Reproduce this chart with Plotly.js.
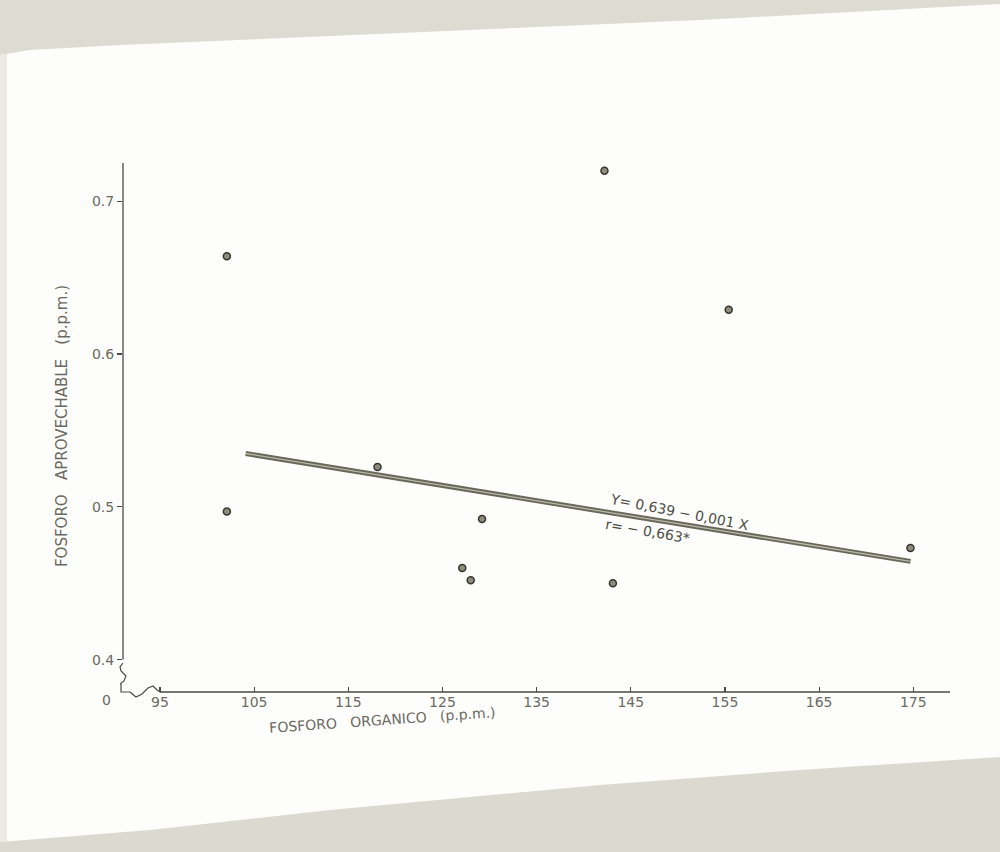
<!DOCTYPE html>
<html>
<head>
<meta charset="utf-8">
<script src="https://cdn.plot.ly/plotly-3.0.1.min.js"></script>
<style>html,body{margin:0;padding:0;background:#fdfdfb;}#chart{width:1000px;height:852px;}</style>
</head>
<body>
<div id="chart"></div>
<script>
// ---- data ----
var fosforoOrganico = [102.1, 102.1, 118.1, 127.1, 128.0, 129.2, 142.2, 143.1, 155.4, 174.7];
var fosforoAprovechable = [0.664, 0.497, 0.526, 0.460, 0.452, 0.492, 0.720, 0.450, 0.629, 0.473];
var xTickVals = [95, 105, 115, 125, 135, 145, 155, 165, 175];
var xTickText = ["95", "105", "115", "125", "135", "145", "155", "165", "175"];
var yTickVals = [0.4, 0.5, 0.6, 0.7];
var yTickText = ["0.4", "0.5", "0.6", "0.7"];
var regIntercept = 0.639;
var regSlope = -0.001;
var regXEnds = [104.1, 174.7];
var regYEnds = regXEnds.map(function (x) { return regIntercept + regSlope * x; });

// ---- layout geometry ----
var W = 1000, H = 852, ML = 123, MR = 50, MT = 160, MB = 160;
var PW = W - ML - MR, PH = H - MT - MB;
function px(x) { return (x - ML) / PW; }
function py(y) { return (H - MB - y) / PH; }
function path(pts) {
  return pts.map(function (p, i) { return (i ? 'L' : 'M') + px(p[0]).toFixed(4) + ',' + py(p[1]).toFixed(4); }).join(' ');
}

var inkAxis = '#4a4a44';
var inkText = '#6a6a62';

var traces = [
  {x: regXEnds, y: regYEnds, mode: 'lines', line: {color: '#68675a', width: 5}, hoverinfo: 'skip', showlegend: false},
  {x: regXEnds, y: regYEnds, mode: 'lines', line: {color: '#b9b7a8', width: 1.3}, hoverinfo: 'skip', showlegend: false},
  {x: fosforoOrganico, y: fosforoAprovechable, mode: 'markers',
   marker: {size: 7, color: '#8e8c7c', line: {color: '#35352e', width: 1.5}}, showlegend: false}
];

var shapes = [
  // surrounding paper (photo background)
  {type: 'path', xref: 'paper', yref: 'paper', layer: 'below', line: {width: 0}, fillcolor: '#dedbd3',
   path: path([[0,0],[1000,0],[1000,4],[700,20],[400,33],[120,45],[30,50],[0,55]]) + ' Z'},
  {type: 'path', xref: 'paper', yref: 'paper', layer: 'below', line: {width: 0}, fillcolor: '#dcd9d1',
   path: path([[0,842],[150,830],[330,810],[600,785],[800,770],[1000,757],[1000,852],[0,852]]) + ' Z'},
  {type: 'path', xref: 'paper', yref: 'paper', layer: 'below', line: {width: 0}, fillcolor: '#ebe9e3',
   path: path([[0,55],[7,54],[7,842],[0,842]]) + ' Z'},
  // y axis line (from the break at 0.4 upward)
  {type: 'line', xref: 'paper', yref: 'y', x0: 0, x1: 0, y0: 0.4, y1: 0.725, line: {color: inkAxis, width: 1.3}},
  // y axis break zigzag
  {type: 'path', xref: 'paper', yref: 'paper', line: {color: inkAxis, width: 1.2},
   path: path([[123,663],[120,667],[121,671],[126,676],[124,681],[120,684]])},
  // corner "L"
  {type: 'path', xref: 'paper', yref: 'paper', line: {color: inkAxis, width: 1.2},
   path: path([[121,684],[121,692],[130,692]])},
  // x axis break wave
  {type: 'path', xref: 'paper', yref: 'paper', line: {color: inkAxis, width: 1.2},
   path: path([[130,692],[136,697],[142,694],[148,688],[153,686],[157,690],[160,692]])},
  // x axis line from 95
  {type: 'line', xref: 'x', yref: 'paper', x0: 95, x1: 178.9, y0: 0, y1: 0, line: {color: inkAxis, width: 1.3}}
];

function ann(x, y, text, angle, size, color) {
  return {xref: 'paper', yref: 'paper', x: px(x), y: py(y), text: text, showarrow: false,
          xanchor: 'center', yanchor: 'middle', textangle: angle,
          font: {family: 'DejaVu Sans', size: size, color: color}};
}

var annotations = [
  ann(106, 700, '0', 0, 14, inkText),
  ann(382, 720, 'FOSFORO   ORGANICO   (p.p.m.)', -4, 14, inkText),
  ann(679, 512, 'Y= 0,639 \u2212 0,001 X', 11, 14, '#4e4e46'),
  ann(647, 531, 'r= \u2212 0,663*', 10, 14, '#4e4e46')
];

var layout = {
  width: W, height: H,
  margin: {l: ML, r: MR, t: MT, b: MB, pad: 0},
  paper_bgcolor: '#fdfdfb',
  plot_bgcolor: 'rgba(0,0,0,0)',
  showlegend: false,
  xaxis: {
    range: [91.07, 178.9], showgrid: false, zeroline: false, showline: false,
    tickmode: 'array', tickvals: xTickVals, ticktext: xTickText,
    ticks: 'inside', ticklen: 5, tickwidth: 1.2, tickcolor: inkAxis,
    tickfont: {family: 'DejaVu Sans', size: 14, color: inkText}
  },
  yaxis: {
    range: [0.3788, 0.727], showgrid: false, zeroline: false, showline: false,
    tickmode: 'array', tickvals: yTickVals, ticktext: yTickText,
    ticks: 'outside', ticklen: 5, tickwidth: 1.2, tickcolor: inkAxis,
    tickfont: {family: 'DejaVu Sans', size: 14, color: inkText},
    title: {text: 'FOSFORO   APROVECHABLE   (p.p.m.)', standoff: 20,
            font: {family: 'DejaVu Sans', size: 15, color: inkText}}
  },
  shapes: shapes,
  annotations: annotations
};

Plotly.newPlot('chart', traces, layout, {displayModeBar: false, staticPlot: true});
</script>
</body>
</html>
